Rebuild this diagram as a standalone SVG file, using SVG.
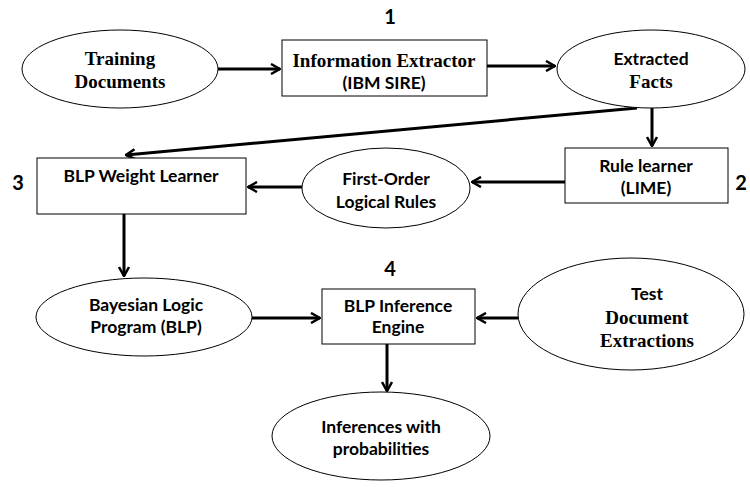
<svg xmlns="http://www.w3.org/2000/svg" width="750" height="487" viewBox="0 0 750 487">
<defs>
<marker id="ah" viewBox="0 0 12 12" refX="11" refY="6" markerWidth="12" markerHeight="12" markerUnits="userSpaceOnUse" orient="auto">
<path d="M2,1 L11,6 L2,11" fill="none" stroke="#000" stroke-width="2.5"/>
</marker>
<style>
.shape{fill:#fff;stroke:#000;stroke-width:1}
.sf{font-family:'Liberation Serif','Times New Roman',serif;font-weight:bold;font-size:19px;text-anchor:middle}
.ss{font-family:Lato,'Open Sans','Liberation Sans',sans-serif;font-weight:bold;font-size:17.5px;text-anchor:middle}
.num{font-family:Lato,'Open Sans','Liberation Sans',sans-serif;font-weight:bold;font-size:20px;text-anchor:middle}
.c{fill:none;stroke:#000;stroke-width:3;marker-end:url(#ah)}
</style>
</defs>
<rect width="750" height="487" fill="#fff"/>
<g id="connectors">
<line class="c" x1="218" y1="69" x2="280" y2="69"/>
<line class="c" x1="487" y1="66" x2="555" y2="66"/>
<line class="c" x1="652" y1="108" x2="652" y2="146"/>
<line class="c" x1="637" y1="108" x2="126" y2="155"/>
<line class="c" x1="565" y1="182" x2="472" y2="182"/>
<line class="c" x1="302" y1="187" x2="248" y2="187"/>
<line class="c" x1="124" y1="214" x2="124" y2="276"/>
<line class="c" x1="252" y1="318" x2="320" y2="318"/>
<line class="c" x1="518" y1="318" x2="477" y2="318"/>
<line class="c" x1="387" y1="344" x2="387" y2="391"/>
</g>
<g id="training-documents">
<ellipse class="shape" cx="120" cy="69" rx="98" ry="39"/>
<text class="sf" x="120" y="65">Training</text>
<text class="sf" x="120" y="88">Documents</text>
</g>
<g id="information-extractor">
<rect class="shape" x="282" y="40" width="205" height="56"/>
<text class="sf" x="384" y="67">Information Extractor</text>
<text class="ss" x="384" y="89">(IBM SIRE)</text>
<text class="num" x="390" y="24">1</text>
</g>
<g id="extracted-facts">
<ellipse class="shape" cx="651" cy="69" rx="94" ry="39"/>
<text class="ss" x="651" y="65">Extracted</text>
<text class="sf" x="651" y="88">Facts</text>
</g>
<g id="rule-learner">
<rect class="shape" x="565" y="148" width="163" height="55"/>
<text class="ss" x="646" y="172">Rule learner</text>
<text class="ss" x="646" y="194">(LIME)</text>
<text class="num" x="741" y="190">2</text>
</g>
<g id="first-order-rules">
<ellipse class="shape" cx="386" cy="188" rx="84" ry="40"/>
<text class="ss" x="386" y="185">First-Order</text>
<text class="ss" x="386" y="208">Logical Rules</text>
</g>
<g id="blp-weight-learner">
<rect class="shape" x="37" y="158" width="209" height="56"/>
<text class="ss" x="141" y="182">BLP Weight Learner</text>
<text class="num" x="18" y="190">3</text>
</g>
<g id="bayesian-logic-program">
<ellipse class="shape" cx="144" cy="317" rx="108" ry="39"/>
<text class="ss" x="146" y="311">Bayesian Logic</text>
<text class="ss" x="146" y="333">Program (BLP)</text>
</g>
<g id="blp-inference-engine">
<rect class="shape" x="322" y="289" width="153" height="55"/>
<text class="ss" x="398" y="312">BLP Inference</text>
<text class="ss" x="398" y="333">Engine</text>
<text class="num" x="390" y="276">4</text>
</g>
<g id="test-document-extractions">
<ellipse class="shape" cx="631" cy="314" rx="113" ry="56"/>
<text class="ss" x="647" y="300">Test</text>
<text class="sf" x="647" y="324">Document</text>
<text class="sf" x="647" y="347">Extractions</text>
</g>
<g id="inferences">
<ellipse class="shape" cx="381" cy="436" rx="109" ry="44"/>
<text class="ss" x="381" y="433">Inferences with</text>
<text class="ss" x="381" y="455">probabilities</text>
</g>
</svg>
